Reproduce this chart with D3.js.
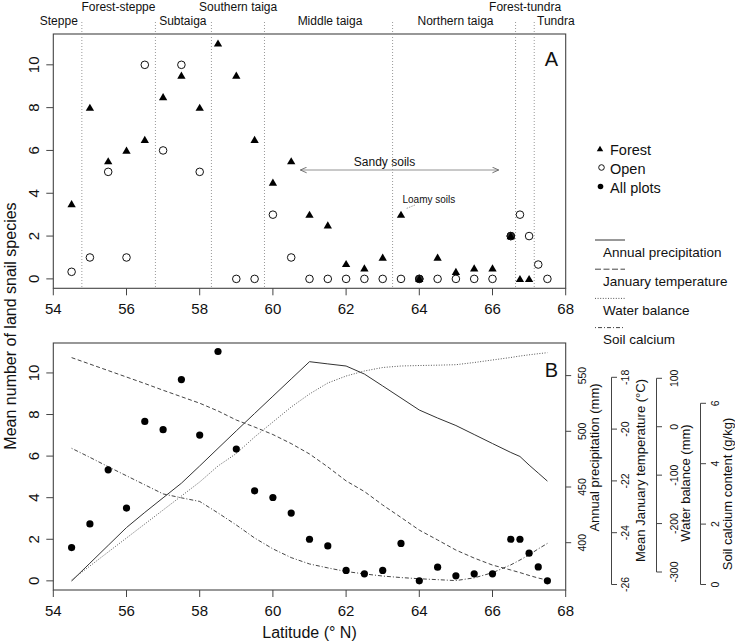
<!DOCTYPE html>
<html><head><meta charset="utf-8">
<script src="https://cdn.jsdelivr.net/npm/d3@7"></script>
<style>body{margin:0;background:#fff} text{font-family:"Liberation Sans",Arial,Helvetica,sans-serif;fill:#111}</style>
</head><body><svg id="c" width="735" height="644"></svg>
<script>
// ---------- data ----------
const forestLat = [54.5,55,55.5,56,56.5,57,57.5,58,58.5,59,59.5,60,60.5,61,61.5,62,62.5,63,63.5,64,64.5,65,65.5,66,66.5,66.75,67];
const forestVal = [3.5,8,5.5,6,6.5,8.5,9.5,8,11,9.5,6.5,4.5,5.5,3,2.5,0.7,0.5,1,3,0,1,0.33,0.5,0.5,2,0,0];
const openLat = [54.5,55,55.5,56,56.5,57,57.5,58,59,59.5,60,60.5,61,61.5,62,62.5,63,63.5,64,64.5,65,65.5,66,66.5,66.75,67,67.25,67.5];
const openVal = [0.33,1,5,1,10,6,10,5,0,0,3,1,0,0,0,0,0,0,0,0,0,0,0,2,3,2,0.67,0];
const allLat = [54.5,55,55.5,56,56.5,57,57.5,58,58.5,59,59.5,60,60.5,61,61.5,62,62.5,63,63.5,64,64.5,65,65.5,66,66.5,66.75,67,67.25,67.5];
const allVal = [1.6,2.74,5.34,3.5,7.67,7.27,9.68,7.01,11.03,6.34,4.33,4.01,3.26,2.0,1.68,0.5,0.34,0.5,1.8,0,0.66,0.24,0.34,0.34,2.0,2.0,1.33,0.67,0];
const precip = [365.6,381.6,397.6,413.6,427.2,440.3,453.4,468.9,484.7,500.4,516.0,531.5,547.0,562.5,560.5,558.6,551.4,540.7,529.9,519.1,511.9,505.2,497.1,489.0,481.0,477.4,469.7,462.5,455.3];
const janTemp = [-17.24,-17.49,-17.74,-17.99,-18.24,-18.50,-18.75,-19.00,-19.30,-19.65,-19.92,-20.21,-20.56,-20.96,-21.46,-22.00,-22.41,-22.93,-23.41,-23.90,-24.28,-24.67,-24.98,-25.25,-25.44,-25.54,-25.65,-25.75,-25.83];
const waterBal = [-316.5,-287.6,-258.7,-229.8,-200.9,-172,-143.1,-114.1,-81.1,-55.3,-21.2,9.8,40.7,67.6,90.3,104.7,115.1,122.3,125.4,126.4,127.1,128.1,132.6,137.8,143,146,148.5,150.8,152.9];
const soilCa = [4.51,4.21,3.90,3.60,3.30,3.00,2.87,2.75,2.37,1.97,1.54,1.18,0.89,0.68,0.55,0.43,0.35,0.28,0.23,0.19,0.16,0.13,0.22,0.39,0.65,0.81,0.98,1.18,1.36];
const zoneBounds = [54.78,56.79,58.32,59.77,63.27,66.63,67.14];
const zoneNames = ["Steppe","Forest-steppe","Subtaiga","Southern taiga","Middle taiga","Northern taiga","Forest-tundra","Tundra"];
const zoneLabelLat = [54.15,55.78,57.54,59.05,61.56,64.99,66.89,67.73];
const zoneRow = [1,0,1,0,1,1,0,1];
const xTicks = [54,56,58,60,62,64,66,68];
const yTicks = [0,2,4,6,8,10];
const precipTicks = [400,450,500,550];
const tempTicks = [-26,-24,-22,-20,-18];
const waterTicks = [-300,-200,-100,0,100];
const caTicks = [0,2,4,6];
const sandyRange = [60.75,66.17];
const loamyPoint = [63.5,3];

// ---------- scales ----------
const svg = d3.select("#c");
const x = d3.scaleLinear([54,68],[53.3,565.7]);
const yA = d3.scaleLinear([-0.44,11.44],[288.3,34]);
const yB = d3.scaleLinear([-0.44,11.44],[590,343]);
const yP = d3.scaleLinear([400,550],[542.7,375.6]);
const yT = d3.scaleLinear([-26,-18],[584.5,377.3]);
const yW = d3.scaleLinear([-300,100],[572,378.3]);
const yC = d3.scaleLinear([0,6],[584.5,403.3]);
const FONT = '"Liberation Sans",Arial,Helvetica,sans-serif';

svg.append("defs").html(`
<marker id="ah" viewBox="0 0 10 10" refX="9" refY="5" markerWidth="7" markerHeight="7" orient="auto-start-reverse" markerUnits="userSpaceOnUse">
<path d="M0,1 L9,5 L0,9" fill="none" stroke="#666" stroke-width="1.3"/></marker>`);

// ---------- panel boxes ----------
function panelAxes(yScale, top, bottom, letter, letterY){
  svg.append("rect").attr("x",x(54)).attr("y",top).attr("width",x(68)-x(54)).attr("height",bottom-top)
    .attr("fill","none").attr("stroke","#444").attr("stroke-width",1.1);
  const gx = svg.append("g");
  xTicks.forEach(t=>{
    gx.append("line").attr("x1",x(t)).attr("x2",x(t)).attr("y1",bottom).attr("y2",bottom+7).attr("stroke","#444");
    gx.append("text").attr("x",x(t)).attr("y",bottom+26).attr("text-anchor","middle").style("font-size","15px").text(t);
  });
  yTicks.forEach(t=>{
    gx.append("line").attr("x1",x(54)-7).attr("x2",x(54)).attr("y1",yScale(t)).attr("y2",yScale(t)).attr("stroke","#444");
    gx.append("text").attr("transform",`translate(39,${yScale(t)}) rotate(-90)`).attr("text-anchor","middle").style("font-size","15px").text(t);
  });
  svg.append("text").attr("x",558).attr("y",letterY).attr("text-anchor","end").style("font-size","20px").text(letter);
}
panelAxes(yA, 34, 288.3, "A", 65.5);
panelAxes(yB, 343, 590, "B", 377);

// ---------- panel A ----------
zoneBounds.forEach(b=>{
  svg.append("line").attr("x1",x(b)).attr("x2",x(b)).attr("y1",22).attr("y2",288.3)
    .attr("stroke","#999").attr("stroke-dasharray","1,2").attr("stroke-width",1);
});
zoneNames.forEach((n,i)=>{
  svg.append("text").attr("x",x(zoneLabelLat[i])).attr("y",zoneRow[i]?25:10.5)
    .attr("text-anchor","middle").style("font-size","12px").text(n);
});
// sandy soils
svg.append("line").attr("x1",x(sandyRange[0])).attr("x2",x(sandyRange[1])).attr("y1",170).attr("y2",170)
  .attr("stroke","#777").attr("stroke-width",0.8).attr("marker-start","url(#ah)").attr("marker-end","url(#ah)");
svg.append("text").attr("x",(x(sandyRange[0])+x(sandyRange[1]))/2-15).attr("y",165.5).attr("text-anchor","middle").style("font-size","12px").text("Sandy soils");
svg.append("text").attr("x",402.5).attr("y",203).style("font-size","10px").text("Loamy soils");
svg.append("line").attr("x1",415).attr("y1",205).attr("x2",x(loamyPoint[0])+5).attr("y2",yA(loamyPoint[1])-6)
  .attr("stroke","#888").attr("stroke-width",0.8).attr("stroke-dasharray","1.5,1");

const tri = d3.symbol().type(d3.symbolTriangle).size(30);
const openPts = openLat.map((l,i)=>({l,v:openVal[i]}));
const forestPts = forestLat.map((l,i)=>({l,v:forestVal[i]}));
const both = openPts.filter(o=>forestPts.some(f=>f.l===o.l && f.v===o.v));
svg.append("g").selectAll("circle").data(openPts).join("circle")
  .attr("cx",d=>x(d.l)).attr("cy",d=>yA(d.v)).attr("r",3.8).attr("fill","#fff").attr("stroke","#111").attr("stroke-width",1);
svg.append("g").selectAll("circle").data(both).join("circle")
  .attr("cx",d=>x(d.l)).attr("cy",d=>yA(d.v)).attr("r",3.8).attr("fill","#333").attr("stroke","#111");
svg.append("g").selectAll("path").data(forestPts).join("path")
  .attr("d",tri).attr("transform",d=>`translate(${x(d.l)},${yA(d.v)+0.8})`).attr("fill","#000");

// ---------- panel B ----------
function drawLine(vals, sc, dash, col){
  const line = d3.line().x((d,i)=>x(allLat[i])).y(d=>sc(d));
  svg.append("path").attr("d",line(vals)).attr("fill","none").attr("stroke",col).attr("stroke-width",1)
    .attr("stroke-dasharray",dash);
}
drawLine(precip, yP, null, "#333");
drawLine(janTemp, yT, "4,2.5", "#444");
drawLine(waterBal, yW, "1,1.6", "#555");
drawLine(soilCa, yC, "1,2,4,2", "#444");
svg.append("g").selectAll("circle").data(allLat).join("circle")
  .attr("cx",d=>x(d)).attr("cy",(d,i)=>yB(allVal[i])).attr("r",3.6).attr("fill","#000");

// ---------- right axes ----------
function rightAxis(sc, ticks, ax, lineFromBox, labelX, title, titleX){
  const g = svg.append("g");
  if(!lineFromBox){
    g.append("line").attr("x1",ax).attr("x2",ax).attr("y1",sc(ticks[0])).attr("y2",sc(ticks[ticks.length-1])).attr("stroke","#444");
  }
  ticks.forEach(t=>{
    g.append("line").attr("x1",ax).attr("x2",ax+5.5).attr("y1",sc(t)).attr("y2",sc(t)).attr("stroke","#444");
    g.append("text").attr("transform",`translate(${labelX},${sc(t)}) rotate(-90)`).attr("text-anchor","middle")
      .style("font-size","10.5px").text(t);
  });
  const mid = (sc(ticks[0])+sc(ticks[ticks.length-1]))/2;
  return {g, mid};
}
rightAxis(yP, precipTicks, x(68), true, 585.5);
svg.append("text").attr("transform",`translate(599,457.5) rotate(-90)`).attr("text-anchor","middle").style("font-size","13px").text("Annual precipitation (mm)");
rightAxis(yT, tempTicks, 611.5, false, 629);
svg.append("text").attr("transform",`translate(644.5,470.5) rotate(-90)`).attr("text-anchor","middle").style("font-size","13px").text("Mean January temperature (°C)");
rightAxis(yW, waterTicks, 656.5, false, 677.5);
svg.append("text").attr("transform",`translate(689.5,483) rotate(-90)`).attr("text-anchor","middle").style("font-size","13px").text("Water balance (mm)");
rightAxis(yC, caTicks, 700.5, false, 718.5);
svg.append("text").attr("transform",`translate(732,494) rotate(-90)`).attr("text-anchor","middle").style("font-size","13px").text("Soil calcium content (g/kg)");

// ---------- axis titles ----------
svg.append("text").attr("transform",`translate(15.5,326) rotate(-90)`).attr("text-anchor","middle").style("font-size","16px").text("Mean number of land snail species");
svg.append("text").attr("x",309.5).attr("y",638).attr("text-anchor","middle").style("font-size","16px").text("Latitude (° N)");

// ---------- legends ----------
const lg = svg.append("g");
lg.append("path").attr("d",d3.symbol().type(d3.symbolTriangle).size(18)).attr("transform","translate(600,149.5)").attr("fill","#000");
lg.append("circle").attr("cx",601.5).attr("cy",167.5).attr("r",2.8).attr("fill","#fff").attr("stroke","#111");
lg.append("circle").attr("cx",600.5).attr("cy",186.5).attr("r",2.8).attr("fill","#000");
[["Forest",154.5],["Open",173.5],["All plots",192.5]].forEach(([t,yy])=>{
  lg.append("text").attr("x",610).attr("y",yy).style("font-size","14.5px").text(t);
});
const lineLeg = [["Annual precipitation",null,"#333"],["January temperature","6,2.5","#444"],["Water balance","1,1.6","#555"],["Soil calcium","1,2,4,2","#444"]];
lineLeg.forEach(([t,dash,col],i)=>{
  const yy = 240 + i*29.2;
  lg.append("line").attr("x1",595).attr("x2",625).attr("y1",yy).attr("y2",yy).attr("stroke",col).attr("stroke-dasharray",dash);
  lg.append("text").attr("x",603).attr("y",yy+16.5).style("font-size","13.5px").text(t);
});
</script></body></html>
